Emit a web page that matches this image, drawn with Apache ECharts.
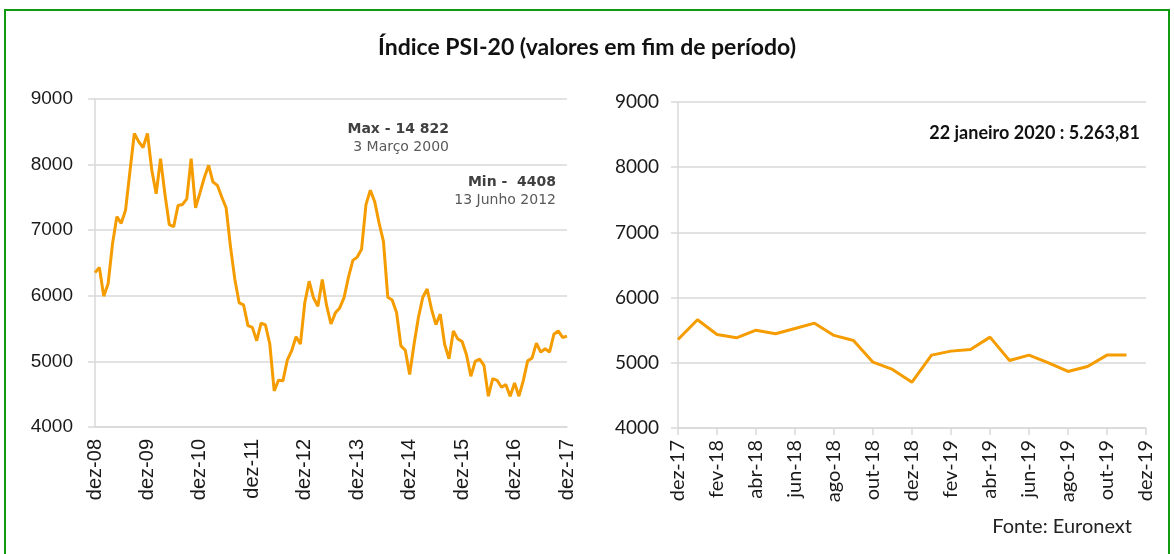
<!DOCTYPE html>
<html>
<head>
<meta charset="utf-8">
<script src="https://cdn.jsdelivr.net/npm/echarts@6/dist/echarts.min.js"></script>
<style>
html,body{margin:0;padding:0;background:#fff;}
#c{width:1174px;height:554px;}
</style>
</head>
<body>
<div id="c"></div>
<script>
// ---- data ----
const monthAbbr = ['jan','fev','mar','abr','mai','jun','jul','ago','set','out','nov','dez'];
// Left panel: monthly end values, dez-08 .. dez-17
const psi2008 = [6353];
const psi2009 = [6430, 5995, 6184, 6788, 7207, 7105, 7309, 7900, 8476, 8350, 8261, 8476];
const psi2010 = [7913, 7555, 8092, 7550, 7084, 7053, 7376, 7391, 7478, 8092, 7340, 7565];
const psi2011 = [7800, 7990, 7734, 7684, 7506, 7343, 6750, 6250, 5891, 5860, 5545, 5519];
const psi2012 = [5315, 5585, 5555, 5265, 4551, 4714, 4704, 5020, 5163, 5376, 5264, 5894];
const psi2013 = [6222, 5970, 5840, 6248, 5850, 5570, 5740, 5815, 5977, 6284, 6540, 6590];
const psi2014 = [6710, 7390, 7610, 7435, 7110, 6830, 5977, 5936, 5746, 5236, 5170, 4800];
const psi2015 = [5261, 5670, 5977, 6104, 5798, 5560, 5721, 5262, 5040, 5465, 5343, 5303];
const psi2016 = [5101, 4773, 5000, 5035, 4939, 4470, 4737, 4712, 4606, 4646, 4470, 4672];
const psi2017 = [4470, 4707, 5010, 5050, 5278, 5141, 5192, 5141, 5414, 5465, 5364, 5385];
// Right panel: dez-17 .. dez-19 (last month without value)
const psiRecent = [5358, 5660, 5435, 5383, 5500, 5445, 5527, 5608, 5420, 5343, 5010, 4898,
                   4703, 5118, 5179, 5204, 5394, 5036, 5118, 5000, 4867, 4944, 5118, 5118, null];
const yTicks = {min: 4000, max: 9000, interval: 1000};
const titleText = 'Índice PSI-20 (valores em fim de período)';
const maxLabel = ['Max - 14 822', '3 Março 2000'];
const minLabel = ['Min -  4408', '13 Junho 2012'];
const lastLabel = '22 janeiro 2020 : 5.263,81';
const sourceLabel = 'Fonte: Euronext';

// categories
const leftCats = ['dez-08'];
for (let y = 9; y <= 17; y++) monthAbbr.forEach(m => leftCats.push(m + '-' + String(y).padStart(2, '0')));
const rightCats = ['dez-17'];
for (let y = 18; y <= 19; y++) monthAbbr.forEach(m => rightCats.push(m + '-' + y));
const leftVals = [].concat(psi2008, psi2009, psi2010, psi2011, psi2012, psi2013, psi2014, psi2015, psi2016, psi2017);

const orange = '#F59C00';
const gridGray = '#d9d9d9';
const plain = (v) => String(v);

const chart = echarts.init(document.getElementById('c'), null, {renderer: 'canvas'});
chart.setOption({
  animation: false,
  title: {
    text: titleText, left: 'center', top: 31,
    textStyle: {fontFamily: 'Lato', fontWeight: 'bold', fontSize: 23, color: '#111'}
  },
  grid: [
    {left: 95, right: 607, top: 99, bottom: 127},
    {left: 678, right: 28, top: 102, bottom: 126}
  ],
  xAxis: [
    {
      type: 'category', gridIndex: 0, data: leftCats, boundaryGap: false,
      axisLine: {lineStyle: {color: gridGray, width: 1.5}},
      axisTick: {show: false},
      axisLabel: {
        interval: (i) => i % 12 === 0, rotate: 90, margin: 12,
        fontFamily: 'Liberation Sans', fontSize: 20, color: '#1a1a1a'
      }
    },
    {
      type: 'category', gridIndex: 1, data: rightCats, boundaryGap: false,
      axisLine: {lineStyle: {color: gridGray, width: 1.5}},
      axisTick: {show: true, interval: (i) => i % 2 === 0, length: 7, lineStyle: {color: gridGray, width: 1.5}},
      axisLabel: {
        interval: (i) => i % 2 === 0, rotate: 90, margin: 12,
        fontFamily: 'Lato', fontSize: 20, color: '#1a1a1a'
      }
    }
  ],
  yAxis: [
    {
      type: 'value', gridIndex: 0, min: yTicks.min, max: yTicks.max, interval: yTicks.interval,
      axisLine: {show: true, lineStyle: {color: gridGray, width: 1.5}},
      axisTick: {show: true, length: 7, lineStyle: {color: gridGray, width: 1.5}},
      splitLine: {lineStyle: {color: gridGray, width: 1.5}},
      axisLabel: {margin: 22, fontFamily: 'Liberation Sans', fontSize: 19, color: '#1a1a1a', formatter: plain}
    },
    {
      type: 'value', gridIndex: 1, min: yTicks.min, max: yTicks.max, interval: yTicks.interval,
      axisLine: {show: true, lineStyle: {color: gridGray, width: 1.5}},
      axisTick: {show: true, length: 7, lineStyle: {color: gridGray, width: 1.5}},
      splitLine: {lineStyle: {color: gridGray, width: 1.5}},
      axisLabel: {margin: 19, fontFamily: 'Lato', fontSize: 19, color: '#1a1a1a', formatter: plain}
    }
  ],
  series: [
    {
      type: 'line', xAxisIndex: 0, yAxisIndex: 0, data: leftVals,
      showSymbol: false, symbol: 'none',
      lineStyle: {color: orange, width: 3}, itemStyle: {color: orange}
    },
    {
      type: 'line', xAxisIndex: 1, yAxisIndex: 1, data: psiRecent,
      showSymbol: false, symbol: 'none',
      lineStyle: {color: orange, width: 3}, itemStyle: {color: orange}
    }
  ],
  graphic: [
    {type: 'rect', shape: {x: 5, y: 10, width: 1164, height: 560},
     style: {fill: 'none', stroke: '#109a10', lineWidth: 2}, silent: true},
    {type: 'text', x: 449, y: 129, style: {text: maxLabel[0], align: 'right', verticalAlign: 'middle',
      font: 'bold 14px "DejaVu Sans"', fill: '#404040'}},
    {type: 'text', x: 449, y: 147, style: {text: maxLabel[1], align: 'right', verticalAlign: 'middle',
      font: '14px "DejaVu Sans"', fill: '#595959'}},
    {type: 'text', x: 556, y: 182, style: {text: minLabel[0], align: 'right', verticalAlign: 'middle',
      font: 'bold 14px "DejaVu Sans"', fill: '#404040'}},
    {type: 'text', x: 556, y: 200, style: {text: minLabel[1], align: 'right', verticalAlign: 'middle',
      font: '14px "DejaVu Sans"', fill: '#595959'}},
    {type: 'text', x: 1140, y: 133, style: {text: lastLabel, align: 'right', verticalAlign: 'middle',
      font: 'bold 18px Lato', fill: '#111'}},
    {type: 'text', x: 1132, y: 527, style: {text: sourceLabel, align: 'right', verticalAlign: 'middle',
      font: '20px Lato', fill: '#222'}}
  ]
});
</script>
</body>
</html>
